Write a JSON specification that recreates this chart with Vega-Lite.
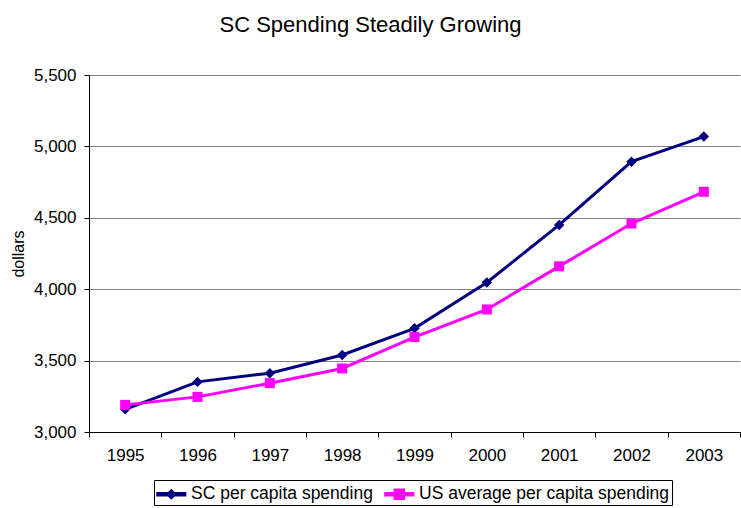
{
  "$schema": "https://vega.github.io/schema/vega-lite/v6.json",
  "width": 651,
  "height": 357,
  "autosize": {"type": "none"},
  "padding": {"left": 89, "top": 75, "right": 1, "bottom": 76},
  "background": "white",
  "config": {
    "font": "Liberation Sans",
    "view": {"stroke": null},
    "axis": {"labelFont": "Liberation Sans", "titleFont": "Liberation Sans", "labelColor": "black", "titleColor": "black"},
    "legend": {
      "orient": "none",
      "legendX": 65,
      "legendY": 405,
      "direction": "horizontal",
      "symbolSize": 484,
      "labelFontSize": 17.5,
      "labelFont": "Liberation Sans",
      "labelColor": "black",
      "labelOffset": 11,
      "columnPadding": 9,
      "padding": 2,
      "strokeColor": "black",
      "fillColor": "white",
      "labelLimit": 400
    }
  },
  "title": {
    "text": "SC Spending Steadily Growing",
    "fontSize": 22,
    "fontWeight": "normal",
    "font": "Liberation Sans",
    "color": "black",
    "anchor": "middle",
    "frame": "group",
    "dx": -44,
    "offset": 29
  },
  "data": {
    "values": [
      {"year": "1995", "series": "SC per capita spending", "value": 3159},
      {"year": "1996", "series": "SC per capita spending", "value": 3351},
      {"year": "1997", "series": "SC per capita spending", "value": 3412},
      {"year": "1998", "series": "SC per capita spending", "value": 3539},
      {"year": "1999", "series": "SC per capita spending", "value": 3726},
      {"year": "2000", "series": "SC per capita spending", "value": 4047},
      {"year": "2001", "series": "SC per capita spending", "value": 4450},
      {"year": "2002", "series": "SC per capita spending", "value": 4893},
      {"year": "2003", "series": "SC per capita spending", "value": 5069},
      {"year": "1995", "series": "US average per capita spending", "value": 3190},
      {"year": "1996", "series": "US average per capita spending", "value": 3246},
      {"year": "1997", "series": "US average per capita spending", "value": 3342},
      {"year": "1998", "series": "US average per capita spending", "value": 3445},
      {"year": "1999", "series": "US average per capita spending", "value": 3665},
      {"year": "2000", "series": "US average per capita spending", "value": 3858},
      {"year": "2001", "series": "US average per capita spending", "value": 4160},
      {"year": "2002", "series": "US average per capita spending", "value": 4460},
      {"year": "2003", "series": "US average per capita spending", "value": 4682}
    ]
  },
  "encoding": {
    "x": {
      "field": "year",
      "type": "ordinal",
      "scale": {"type": "band", "paddingInner": 0, "paddingOuter": 0},
      "axis": {
        "title": null,
        "labelAngle": 0,
        "labelFontSize": 17,
        "labelPadding": 10,
        "tickBand": "extent",
        "tickSize": 5,
        "tickColor": "black",
        "domainColor": "black",
        "grid": false
      }
    },
    "y": {
      "field": "value",
      "type": "quantitative",
      "scale": {"domain": [3000, 5500], "nice": false, "zero": false},
      "axis": {
        "title": "dollars",
        "titleFontSize": 16,
        "titleFontWeight": "normal",
        "titlePadding": 7,
        "values": [3000, 3500, 4000, 4500, 5000, 5500],
        "format": ",d",
        "labelFontSize": 17,
        "labelPadding": 8,
        "tickSize": 5,
        "tickColor": "black",
        "domainColor": "black",
        "grid": true,
        "gridColor": "#808080",
        "gridWidth": 1
      }
    },
    "color": {
      "field": "series",
      "type": "nominal",
      "title": null,
      "scale": {
        "domain": ["SC per capita spending", "US average per capita spending"],
        "range": ["#000080", "#FF00FF"]
      }
    }
  },
  "layer": [
    {
      "mark": {"type": "line", "strokeWidth": 3}
    },
    {
      "transform": [{"filter": "datum.series === 'SC per capita spending'"}],
      "mark": {"type": "point", "shape": "diamond", "filled": true, "size": 110, "opacity": 1}
    },
    {
      "transform": [{"filter": "datum.series === 'US average per capita spending'"}],
      "mark": {"type": "point", "shape": "square", "filled": true, "size": 100, "opacity": 1}
    },
    {
      "transform": [{"filter": "datum.value < 0"}],
      "mark": {"type": "point", "filled": true, "opacity": 1},
      "encoding": {
        "shape": {
          "field": "series",
          "type": "nominal",
          "title": null,
          "scale": {
            "domain": ["SC per capita spending", "US average per capita spending"],
            "range": [
              "M-1,-0.136L1.6,-0.136L1.6,0.136L-1,0.136Z M0.3,-0.41L0.71,0L0.3,0.41L-0.11,0Z",
              "M-1,-0.136L1.6,-0.136L1.6,0.136L-1,0.136Z M-0.15,-0.45L0.75,-0.45L0.75,0.45L-0.15,0.45Z"
            ]
          }
        }
      }
    }
  ]
}
